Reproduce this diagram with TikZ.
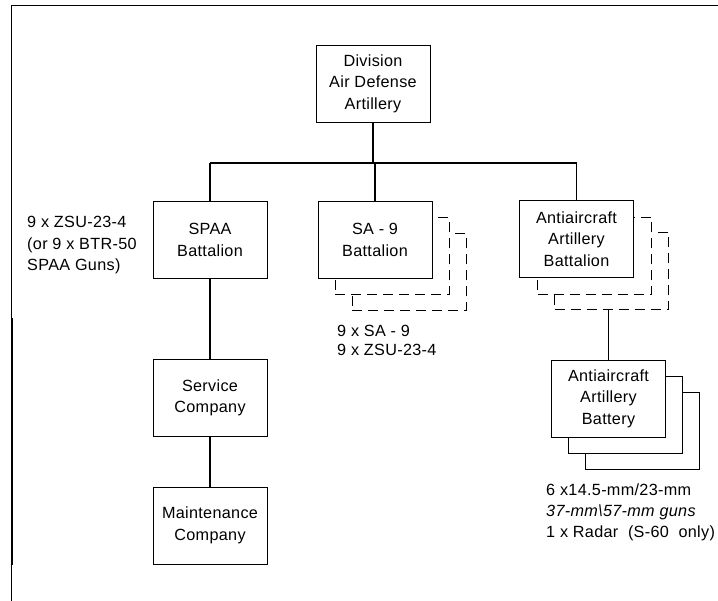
\documentclass[tikz,border=0pt]{standalone}
\usepackage{fontspec}
\setmainfont{Liberation Sans}[LetterSpace=2.0]
\begin{document}
\begin{tikzpicture}[x=1pt,y=-1pt,
  txt/.style={font=\fontsize{16.2}{21.5}\selectfont},
  unit/.style={txt, draw, line width=0.9pt, fill=white, minimum width=114pt,
    minimum height=77pt, inner sep=0pt, align=center},
  ghost/.style={unit, dash pattern=on 10pt off 6pt},
  echo/.style={unit},
  bus/.style={line width=2.2pt},
  drop/.style={line width=1.6pt},
  link/.style={line width=1.1pt},
  note/.style={txt, align=left, inner sep=0pt, anchor=north west}]
\useasboundingbox (0,0) rectangle (718,601);

% page frame
\draw[line width=1.4pt] (718,5.5) -- (11.5,5.5) -- (11.5,601);
\draw[line width=2pt] (12,318) -- (12,565);

% headquarters
\node[unit] (div) at (373,83.5) {Division\\Air Defense\\Artillery};

% battalions
\node[unit] (spaa) at (210,240) {SPAA\\Battalion};

\node[ghost] (sa9c) at (409,272) {};
\node[ghost] (sa9b) at (392,256) {};
\node[unit] (sa9) at (375,240) {SA - 9\\Battalion};

\node[ghost] (aaac) at (611.5,271) {};
\node[ghost] (aaab) at (594.5,256) {};
\node[unit] (aaa) at (576.5,239) {Antiaircraft\\Artillery\\Battalion};

% companies under the SPAA battalion
\node[unit] (svc) at (210,398) {Service\\Company};
\node[unit] (mnt) at (210,525.5) {Maintenance\\Company};

% batteries
\node[echo] (btyc) at (642.5,430.5) {};
\node[echo] (btyb) at (625.5,414.5) {};
\node[unit] (bty) at (608.5,398.5) {Antiaircraft\\Artillery\\Battery};

% equipment notes
\node[note] (spaaeq) at (27,216) {9 x ZSU-23-4\\(or 9 x BTR-50\\SPAA Guns)};
\node[note, font=\fontsize{16.2}{19}\selectfont] (sa9eq) at (337,325) {9 x SA - 9\\9 x ZSU-23-4};
\node[note, font=\fontsize{16.2}{21}\selectfont] (btyeq) at (546,484)
  {6 x14.5-mm/23-mm\\\textit{37-mm\textbackslash57-mm guns}\\1 x Radar\ \ (S-60\ \ only)};

% command lines
\coordinate (busL) at (210,163);
\coordinate (busR) at (576.5,163);
\draw[bus] (busL) -- (busR);
\draw[link] (div.south) -- (div.south |- busL);
\draw[drop] (spaa.north) -- (busL);
\draw[drop] (sa9.north) -- (sa9.north |- busL);
\draw[drop] (aaa.north) -- (busR);
\draw[link] (spaa) -- (svc);
\draw[link] (svc) -- (mnt);
\draw[link] (bty.north |- aaac.south) -- (bty.north);
\end{tikzpicture}
\end{document}
